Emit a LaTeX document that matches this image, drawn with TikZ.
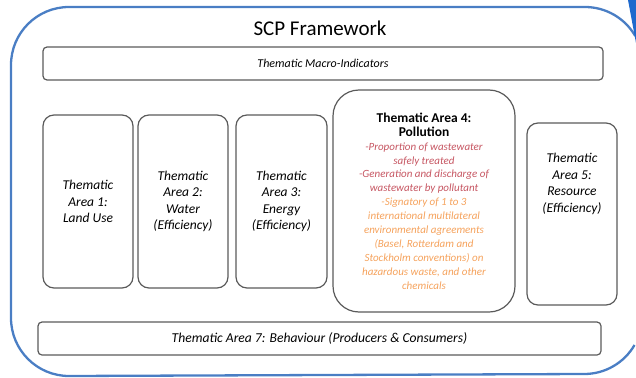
\documentclass[tikz,border=0pt]{standalone}
\usepackage{fontspec}
\setmainfont{Carlito}
\usetikzlibrary{shapes,calc}
\definecolor{frameblue}{RGB}{74,126,196}
\definecolor{wedgeblue}{RGB}{30,105,205}
\definecolor{boxgray}{RGB}{90,90,90}
\definecolor{indred}{RGB}{198,86,98}
\definecolor{indorange}{RGB}{245,162,92}
\newcommand{\areatitle}[1]{\textbf{\fontsize{13.5}{16}\selectfont #1}}
\newcommand{\redind}[1]{\textcolor{indred}{\itshape #1}}
\newcommand{\orgind}[1]{\textcolor{indorange}{\itshape #1}}

\begin{document}
\begin{tikzpicture}
        [x=1pt,y=-1pt,
        every node/.style={align=center,inner sep=2pt},
        area/.style={draw=boxgray,line width=1.2pt,rounded corners=11pt,
          minimum width=90pt,minimum height=173pt,
          font=\itshape\fontsize{13.5}{16.5}\selectfont},
        wide/.style={draw=boxgray,line width=1.2pt,rounded corners=4pt,
          minimum height=33pt,font=\itshape\fontsize{12}{14}\selectfont}]
        \useasboundingbox (0,0) rectangle (636,377);
        % outer frame, cut by the page edge on the right
        \draw[frameblue,line width=2.3pt] (634.5,345) arc[start angle=30,end angle=90,radius=58]
          -- (69,376) arc[start angle=90,end angle=180,radius=58]
          -- (11,65) arc[start angle=180,end angle=270,radius=58]
          -- (585,7) arc[start angle=270,end angle=330,radius=58];
        \fill[wedgeblue] (628,0) -- (636,0) -- (636,43) -- cycle;
        \node (title) at (320,28) {\fontsize{21}{24}\selectfont SCP Framework};
        %%
        \node[wide,minimum width=560pt] (macro) at (323,63.5) {Thematic Macro-Indicators};
        \node[area] (a1) at (88,201.5) {Thematic\\Area 1:\\Land Use};
        \node[area] (a2) at (183,201.5) {Thematic\\Area 2:\\Water\\(Efficiency)};
        \node[area,minimum width=91pt] (a3) at (281.5,201.5) {Thematic\\Area 3:\\Energy\\(Efficiency)};
        \node[area,rounded corners=26pt,minimum width=182pt,minimum height=222pt,
          font=\fontsize{11}{13.9}\selectfont] (a4) at (424,201) {\areatitle{Thematic Area 4:}\\
          \areatitle{Pollution}\\
          \redind{-Proportion of wastewater}\\
          \redind{safely treated}\\
          \redind{-Generation and discharge of}\\
          \redind{wastewater by pollutant}\\
          \orgind{-Signatory of 1 to 3}\\
          \orgind{international multilateral}\\
          \orgind{environmental agreements}\\
          \orgind{(Basel, Rotterdam and}\\
          \orgind{Stockholm conventions) on}\\
          \orgind{hazardous waste, and other}\\
          \orgind{chemicals}};
        \node[area,minimum height=182pt] (a5) at (572,214) {};
        \node[font=\itshape\fontsize{13.5}{16.5}\selectfont,anchor=north] (a5txt)
          at ($(a5.north)+(0,29)$) {Thematic\\Area 5:\\Resource\\(Efficiency)};
        \node[wide,minimum width=563pt,font=\itshape\fontsize{13.6}{16}\selectfont] (behav)
          at (319.5,338.5) {Thematic Area 7: Behaviour (Producers \& Consumers)};
\end{tikzpicture}
\end{document}
